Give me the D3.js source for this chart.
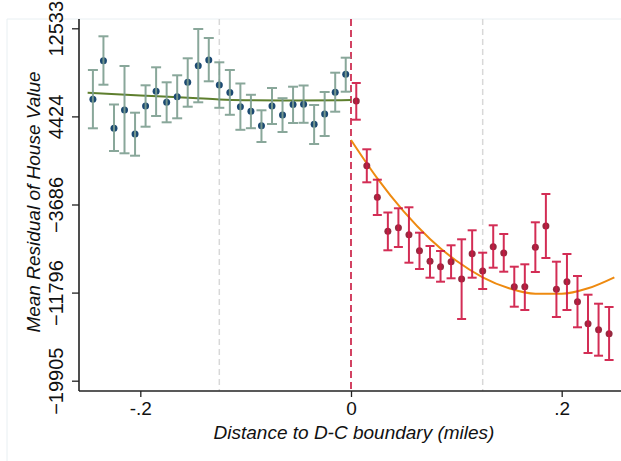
<!DOCTYPE html>
<html>
<head>
<meta charset="utf-8">
<script src="https://cdn.jsdelivr.net/npm/d3@7"></script>
<style>
  body { margin: 0; background: #fff; }
  text { font-family: "Liberation Sans", Arial, sans-serif; fill: #111; }
</style>
</head>
<body>
<div id="chart-area"></div>
<script>
// bin centres (miles) left and right of the boundary
var leftDist = [-0.245, -0.235, -0.225, -0.215, -0.205, -0.195, -0.185, -0.175, -0.165, -0.155,
                -0.145, -0.135, -0.125, -0.115, -0.105, -0.095, -0.085, -0.075, -0.065, -0.055,
                -0.045, -0.035, -0.025, -0.015, -0.005];
var leftMean = [5997, 9551, 3337, 5012, 2803, 5381, 6734, 5721, 6237, 7562,
                9090, 9615, 7314, 6623, 5316, 4902, 3558, 5381, 4552, 5519,
                5546, 3696, 4644, 6642, 8299];
var leftHi = [8694, 11797, 5519, 9063, 4764, 7286, 8943, 7562, 8207, 9771,
              12469, 11640, 9403, 8694, 7452, 6412, 4985, 7038, 6099, 7157,
              7268, 5473, 6669, 8446, 9827];
var leftLo = [3328, 7341, 1238, 1027, 806, 3475, 4460, 3880, 4248, 5316,
              5721, 7654, 5215, 4571, 3190, 3337, 2067, 3724, 2987, 3816,
              3834, 1883, 2619, 4856, 6697];

var rightDist = [0.005, 0.015, 0.025, 0.035, 0.045, 0.055, 0.065, 0.075, 0.085, 0.095,
                 0.105, 0.115, 0.125, 0.135, 0.145, 0.155, 0.165, 0.175, 0.185, 0.195,
                 0.205, 0.215, 0.225, 0.235, 0.245];
var rightMean = [5841, -115, -3024, -6153, -5822, -6466, -7939, -8915, -9412, -8951,
                 -10544, -8215, -9808, -7571, -8151, -11253, -11253, -7626, -5665, -11492,
                 -10793, -12633, -14659, -15211, -15579];
var rightHi = [7498, 1395, -1403, -4423, -4036, -3944, -6282, -7506, -7967, -7442,
               -6890, -6061, -8123, -5601, -6402, -9412, -9191, -5325, -2720, -8951,
               -8243, -10268, -11989, -12818, -13121];
var rightLo = [4120, -1643, -4653, -7902, -7598, -9043, -9623, -10424, -10792, -10480,
               -14226, -10424, -11464, -9504, -9872, -13094, -13398, -9900, -8611, -14042,
               -13398, -14990, -17356, -17604, -18000];

// fitted lines
var leftFitX = [-0.25, -0.2, -0.15, -0.125, -0.1, -0.05, 0];
var leftFitY = [6605, 6347, 6117, 5979, 5915, 5887, 5933];
var rightFitX = [0, 0.025, 0.05, 0.075, 0.1, 0.125, 0.15, 0.175, 0.2, 0.225, 0.25];
var rightFitY = [2251, -1284, -4321, -6853, -8869, -10387, -11400, -11906, -11906, -11400, -10387];

var yTicks = [12533, 4424, -3686, -11796, -19905];
var xTicks = [-0.2, 0, 0.2];
var xTickLabels = ["-.2", "0", ".2"];
var refLines = [-0.125, 0.125];

var W = 621, H = 461;
var svg = d3.select("#chart-area").append("svg")
    .attr("width", W)
    .attr("height", H);

// faint outer frame of the graph region
svg.append("line").attr("x1", 7).attr("x2", W).attr("y1", 19).attr("y2", 19)
    .attr("stroke", "#e8eff2").attr("stroke-width", 1);
svg.append("line").attr("x1", 7).attr("x2", 7).attr("y1", 19).attr("y2", H)
    .attr("stroke", "#e8eff2").attr("stroke-width", 1);

var x = d3.scaleLinear().domain([-0.2582, 0.2582]).range([79, 623]);
var y = d3.scaleLinear().domain([-20854, 13389]).range([391, 19]);

// reference lines
svg.selectAll(".ref").data(refLines).enter().append("line")
    .attr("x1", d => x(d)).attr("x2", d => x(d))
    .attr("y1", 19).attr("y2", 391)
    .attr("stroke", "#d8d8d8").attr("stroke-width", 1.5)
    .attr("stroke-dasharray", "6,4");

svg.append("line")
    .attr("x1", x(0)).attr("x2", x(0))
    .attr("y1", 19).attr("y2", 391)
    .attr("stroke", "#c8143c").attr("stroke-width", 1.6)
    .attr("stroke-dasharray", "7,4");

var line = d3.line()
    .x(d => x(d[0]))
    .y(d => y(d[1]))
    .curve(d3.curveMonotoneX);

svg.append("path")
    .attr("d", line(d3.zip(leftFitX, leftFitY)))
    .attr("fill", "none").attr("stroke", "#5e7f2e").attr("stroke-width", 2);

svg.append("path")
    .attr("d", line(rightFitX.map((d, i) => [d, rightFitY[i]])))
    .attr("fill", "none").attr("stroke", "#ee8a10").attr("stroke-width", 2);

function drawSeries(dist, mean, hi, lo, dotColor, barColor, cap) {
    var g = svg.append("g");
    g.selectAll("circle").data(dist).enter().append("circle")
        .attr("cx", d => x(d))
        .attr("cy", (d, i) => y(mean[i]))
        .attr("r", 3.5)
        .attr("fill", dotColor);
    var bars = g.selectAll(".bar").data(dist).enter().append("g")
        .attr("stroke", barColor).attr("stroke-width", 2).attr("opacity", 0.9);
    bars.append("line")
        .attr("x1", d => x(d)).attr("x2", d => x(d))
        .attr("y1", (d, i) => y(hi[i])).attr("y2", (d, i) => y(lo[i]));
    bars.append("line")
        .attr("x1", d => x(d) - cap).attr("x2", d => x(d) + cap)
        .attr("y1", (d, i) => y(hi[i])).attr("y2", (d, i) => y(hi[i]));
    bars.append("line")
        .attr("x1", d => x(d) - cap).attr("x2", d => x(d) + cap)
        .attr("y1", (d, i) => y(lo[i])).attr("y2", (d, i) => y(lo[i]));
}

drawSeries(leftDist, leftMean, leftHi, leftLo, "#1c4a72", "#7d9e90", 5);
drawSeries(rightDist, rightMean, rightHi, rightLo, "#962a40", "#cf1743", 4.5);

// axes
var yAxis = svg.append("g")
    .attr("transform", "translate(79,0)")
    .call(d3.axisLeft(y).tickValues(yTicks).tickSize(7).tickFormat(d3.format("d")));
yAxis.select(".domain").attr("d", "M0,19V391").attr("stroke", "#222").attr("stroke-width", 1.6);
yAxis.selectAll(".tick line").attr("stroke", "#222").attr("stroke-width", 1.3);
yAxis.selectAll(".tick text")
    .attr("transform", "rotate(-90)")
    .attr("x", 0).attr("y", -16).attr("dy", 0)
    .attr("text-anchor", "middle")
    .style("font-size", "20px").style("font-family", "'Liberation Sans', Arial, sans-serif")
    .attr("fill", "#111");

var xAxis = svg.append("g")
    .attr("transform", "translate(0,391)")
    .call(d3.axisBottom(x).tickValues(xTicks).tickSize(6).tickFormat((d, i) => xTickLabels[i]));
xAxis.select(".domain").attr("d", "M79,0H621").attr("stroke", "#222").attr("stroke-width", 1.6);
xAxis.selectAll(".tick line").attr("stroke", "#222").attr("stroke-width", 1.3);
xAxis.selectAll(".tick text")
    .attr("y", 24).attr("dy", 0)
    .style("font-size", "19px").style("font-family", "'Liberation Sans', Arial, sans-serif")
    .attr("fill", "#111");

svg.append("text")
    .attr("x", 354).attr("y", 439)
    .attr("text-anchor", "middle")
    .style("font-size", "19px").style("font-style", "italic")
    .text("Distance to D-C boundary (miles)");

svg.append("text")
    .attr("transform", "translate(40,202) rotate(-90)")
    .attr("text-anchor", "middle")
    .style("font-size", "19px").style("font-style", "italic")
    .text("Mean Residual of House Value");
</script>
</body>
</html>
